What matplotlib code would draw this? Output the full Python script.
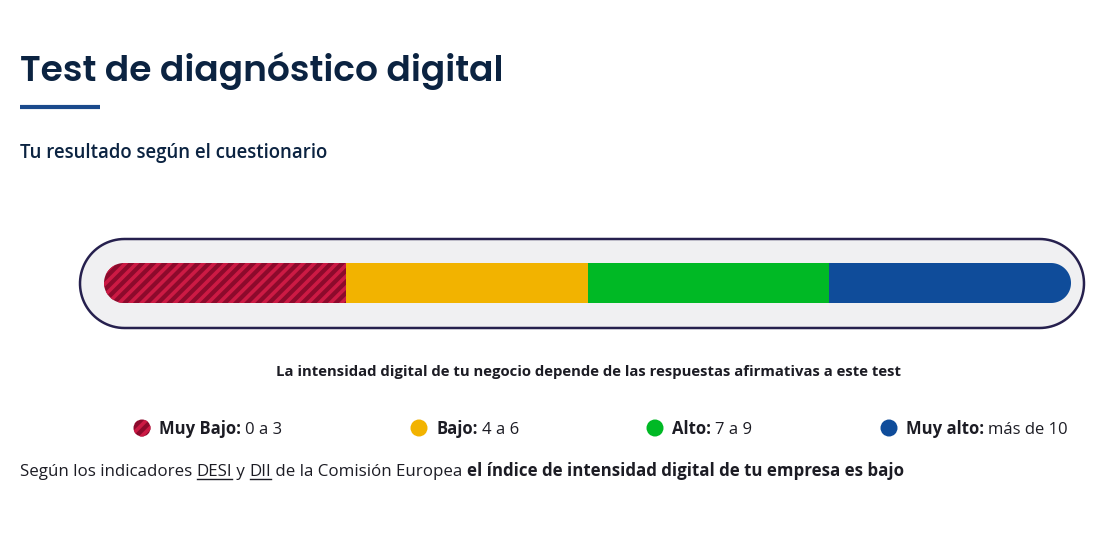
import matplotlib
matplotlib.use("Agg")
import numpy as np
import matplotlib.pyplot as plt
from matplotlib.patches import PathPatch, Circle
from matplotlib.path import Path

# data
levels = ["Muy Bajo", "Bajo", "Alto", "Muy alto"]
ranges = ["0 a 3", "4 a 6", "7 a 9", "más de 10"]
level_colors = ["#8c0a2c", "#f2b300", "#00b925", "#0f4c9a"]
result_level = 0  # highlighted (hatched) level

title = "Test de diagnóstico digital"
subtitle = "Tu resultado según el cuestionario"
caption = "La intensidad digital de tu negocio depende de las respuestas afirmativas a este test"
footer_parts = [
    ("Según los indicadores ", "normal", False),
    ("DESI", "normal", True),
    (" y ", "normal", False),
    ("DII", "normal", True),
    (" de la Comisión Europea ", "normal", False),
    ("el índice de intensidad digital de tu empresa es bajo", "bold", False),
]

W, H = 1111, 535
plt.rcParams["hatch.linewidth"] = 2.6
FONT = ["Open Sans", "DejaVu Sans"]
NAVY = "#0b2341"
TEXT = "#1c1c24"
STRIPE = "#cc1a44"
HATCH = "///"


def stadium(x0, x1, yc, h, n=48):
    # pill shape with semicircle ends
    r = h / 2
    a = np.linspace(-np.pi / 2, np.pi / 2, n)
    right = np.column_stack([x1 - r + r * np.cos(a), yc + r * np.sin(a)])
    left = np.column_stack([x0 + r - r * np.cos(a), yc - r * np.sin(a)])
    verts = np.vstack([right, left, right[:1]])
    codes = [Path.MOVETO] + [Path.LINETO] * (len(verts) - 2) + [Path.CLOSEPOLY]
    return Path(verts, codes)


fig = plt.figure(figsize=(W / 100, H / 100), dpi=100)
ax = fig.add_axes([0, 0, 1, 1])
ax.set_xlim(0, W)
ax.set_ylim(H, 0)
ax.axis("off")

# header
ax.text(20, 81, title, fontsize=25.9, fontweight="semibold", color=NAVY,
        family=["Poppins", "Open Sans", "DejaVu Sans"], va="baseline")
ax.plot([20, 100], [106.5, 106.5], color="#1a4a8c", lw=3, solid_capstyle="butt")
ax.text(20, 158, subtitle, fontsize=13.4, fontweight="semibold", color=NAVY,
        family=FONT, va="baseline")

# outer pill
ax.add_patch(PathPatch(stadium(80, 1084, 283.5, 89), fc="#f0f0f2",
                       ec="#26204e", lw=1.8))

# inner bar segments
bx0, bx1, by, bh = 104, 1071, 283, 40
seg_w = (bx1 - bx0) / len(levels)
clip = PathPatch(stadium(bx0, bx1, by, bh), fc="none", ec="none")
ax.add_patch(clip)
lefts = [bx0 + i * seg_w for i in range(len(levels))]
for i, (left, col) in enumerate(zip(lefts, level_colors)):
    hatched = i == result_level
    bars = ax.barh(by, seg_w, left=left, height=bh, color=col,
                   edgecolor=STRIPE if hatched else col,
                   hatch=HATCH if hatched else None, lw=0)
    for b in bars:
        b.set_clip_path(clip)

# caption
ax.text(588, 376, caption, fontsize=10.75, fontweight="bold", color=TEXT,
        family=FONT, ha="center", va="baseline")

fig.canvas.draw()
renderer = fig.canvas.get_renderer()


def width_of(t):
    return t.get_window_extent(renderer).width


# legend
legend_x = [142, 419, 655, 889]
ly = 428
for i, (lab, rng, col) in enumerate(zip(levels, ranges, level_colors)):
    x = legend_x[i]
    hatched = i == result_level
    c = Circle((x, ly), 8.5, fc=col, ec=STRIPE if hatched else col,
               hatch=HATCH if hatched else None, lw=0)
    ax.add_patch(c)
    t1 = ax.text(x + 17, ly + 6, lab + ":", fontsize=12, fontweight="bold",
                 color=TEXT, family=FONT, va="baseline")
    w1 = width_of(t1)
    ax.text(x + 17 + w1 + 4, ly + 6, rng, fontsize=12, color=TEXT,
            family=FONT, va="baseline")

# footer
fx, fy = 20, 476
for txt, wt, ul in footer_parts:
    t = ax.text(fx, fy, txt, fontsize=12.2, fontweight=wt, color=TEXT,
                family=FONT, va="baseline")
    w = width_of(t)
    if ul:
        ax.plot([fx, fx + w], [fy + 3, fy + 3], color=TEXT, lw=1)
    fx += w

fig.savefig("out.png", dpi=100, facecolor="white")
